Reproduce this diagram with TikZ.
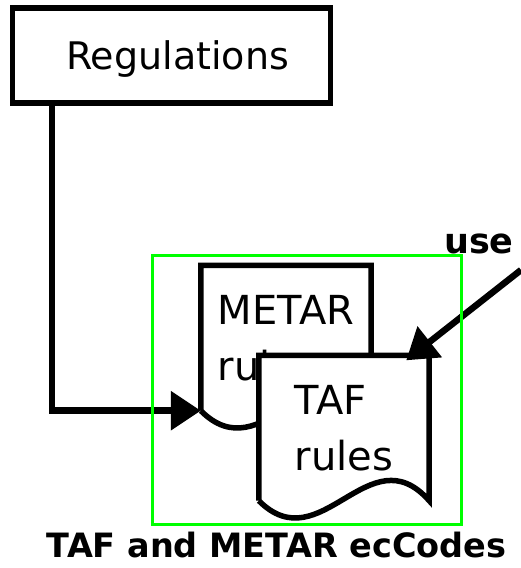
\documentclass[tikz,border=0pt]{standalone}
\usepackage{fontspec}
\setmainfont{DejaVu Sans}
\usetikzlibrary{arrows.meta,positioning,calc}
\definecolor{grpgreen}{RGB}{0,255,0}

% outline of a document: straight top and sides, wavy bottom
\newcommand{\docout}[1]{%
  \draw[docline] (#1.south west) -- (#1.north west) -- (#1.north east)
    -- (#1.south east)
    .. controls ($(#1.south east)+(-60,-68)$) and ($(#1.south west)+(62,62)$)
    .. (#1.south west);}

\begin{document}
\begin{tikzpicture}[
    x=1pt, y=-1pt,
    box/.style={draw, line width=5.5pt, minimum width=318pt,
      minimum height=95pt, text depth=0pt,
      font={\fontsize{38pt}{44pt}\selectfont}},
    doc/.style={fill=white, minimum width=170pt, minimum height=145pt,
      align=left, inner sep=0pt,
      font={\fontsize{40pt}{56pt}\selectfont}},
    docline/.style={line width=5.5pt, line join=miter},
    conn/.style={-{Triangle[length=30pt, width=38pt]}, line width=6.5pt},
    group/.style={draw=grpgreen, line width=3pt},
    tag/.style={font={\fontsize{35pt}{40pt}\selectfont\bfseries}},
    caption/.style={font={\fontsize{33.5pt}{36pt}\selectfont\bfseries}},
  ]
  \useasboundingbox (0,0) rectangle (521,568);

  % source
  \node[box] (reg) at (171.5,55.5) {\hspace*{12pt}Regulations};

  % the two rule documents
  \node[doc] (metar) at (286,338) {METAR\\rules};
  \docout{metar}
  \node[doc] (taf) at (344,428) {TAF\\rules};
  \docout{taf}

  % connectors
  \draw[conn] (reg.south west) ++(42,0) |- (metar.south west);
  \coordinate (usefrom) at (521,270);
  \draw[conn] (usefrom) -- ($(taf.north east)+(-23,5)$);
  \node[tag, anchor=base west, inner sep=0pt] (uselbl) at (444,253) {use};

  % group frame
  \node[group, minimum width=309pt, minimum height=269pt] (grp)
    at (306.5,389.5) {};
  \node[caption, anchor=base] (capt) at (276.5,557)
    {TAF and METAR ecCodes};
\end{tikzpicture}
\end{document}
